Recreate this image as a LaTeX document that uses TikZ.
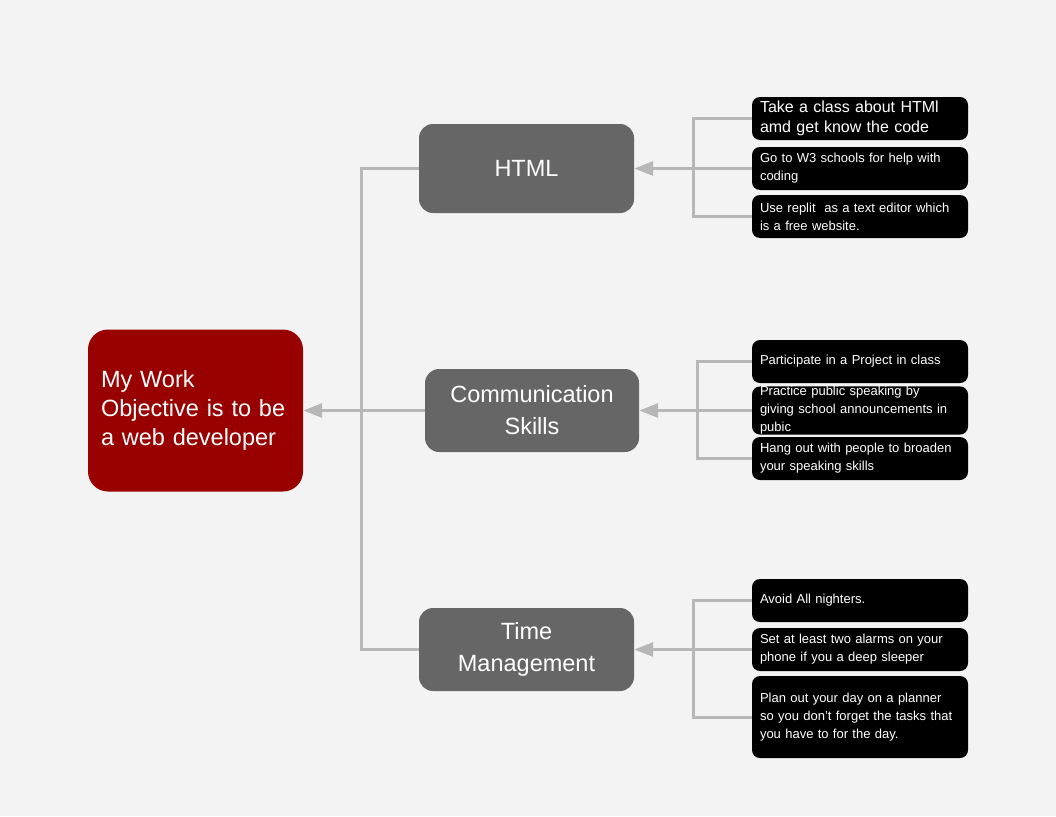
\documentclass[tikz,border=0pt]{standalone}
\usepackage{fontspec}
\setmainfont{Liberation Sans}
\usetikzlibrary{arrows.meta}
\definecolor{pagebg}{HTML}{F3F3F3}
\definecolor{goalred}{HTML}{990000}
\definecolor{topicgray}{HTML}{666666}
\definecolor{linkgray}{HTML}{B7B7B7}
\begin{document}
\begin{tikzpicture}[x=1pt,y=-1pt,
  goal/.style={fill=goalred,text=white,rounded corners=20pt,minimum width=215pt,minimum height=162pt,
    inner sep=0pt,text width=189pt,align=left,font=\fontsize{23.5}{29}\selectfont},
  topic/.style={fill=topicgray,text=white,rounded corners=14pt,minimum width=215pt,
    inner sep=0pt,align=center,font=\fontsize{23.5}{32}\selectfont},
  leaf/.style={fill=black,text=white,rounded corners=8pt,minimum width=216pt,minimum height=43pt,
    inner xsep=8pt,inner ysep=0pt,text width=200pt,align=left,font=\fontsize{13}{18}\selectfont},
  link/.style={draw=linkgray,line width=3pt},
  arr/.style={link,-{Triangle[length=19pt,width=14pt]}}]
\useasboundingbox (0,0) rectangle (1056,816);
\fill [pagebg] (0,0) rectangle (1056,816);
% main goal and topics
\node [goal] (goal) at (195.5,410.5) {My Work\\Objective is to be\\a web developer};
\node [topic,minimum height=89pt] (html) at (526.5,168.5) {HTML};
\node [topic,minimum width=214pt,minimum height=83pt] (comm) at (532,410.5) {Communication\\Skills};
\node [topic,minimum height=83pt] (time) at (526.5,649.5) {Time\\Management};
% steps for HTML
\node [leaf,font=\fontsize{16}{20}\selectfont] (h1) at (860,118.5) {Take a class about HTMl\\amd get know the code};
\node [leaf] (h2) at (860,168.5) {Go to W3 schools for help with\\coding};
\node [leaf] (h3) at (860,216.5) {Use replit\ \ as a text editor which\\is a free website.};
% steps for communication
\node [leaf] (c1) at (860,361.5) {Participate in a Project in class};
\node [leaf] (c2) at (860,410.5) {Practice public speaking by\\giving school announcements in\\pubic};
\node [leaf] (c3) at (860,458.5) {Hang out with people to broaden\\your speaking skills};
% steps for time management
\node [leaf] (t1) at (860,600.5) {Avoid All nighters.};
\node [leaf] (t2) at (860,649.5) {Set at least two alarms on your\\phone if you a deep sleeper};
\node [leaf,minimum height=82pt] (t3) at (860,717) {Plan out your day on a planner\\so you don't forget the tasks that\\you have to for the day.};
% trunks
\coordinate (gtrunk) at (361,410.5);
\coordinate (htrunk) at (693,168.5);
\coordinate (ctrunk) at (697,410.5);
\coordinate (ttrunk) at (693,649.5);
% links to the goal
\draw [link] (html.west) -| (gtrunk);
\draw [link] (time.west) -| (gtrunk);
\draw [arr] (comm.west) -- (goal.east);
% links to the topics
\draw [link] (h1.west) -| (htrunk);
\draw [link] (h3.west) -| (htrunk);
\draw [arr] (h2.west) -- (html.east);
\draw [link] (c1.west) -| (ctrunk);
\draw [link] (c3.west) -| (ctrunk);
\draw [arr] (c2.west) -- (comm.east);
\draw [link] (t1.west) -| (ttrunk);
\draw [link] (t3.west) -| (ttrunk);
\draw [arr] (t2.west) -- (time.east);
\end{tikzpicture}
\end{document}
